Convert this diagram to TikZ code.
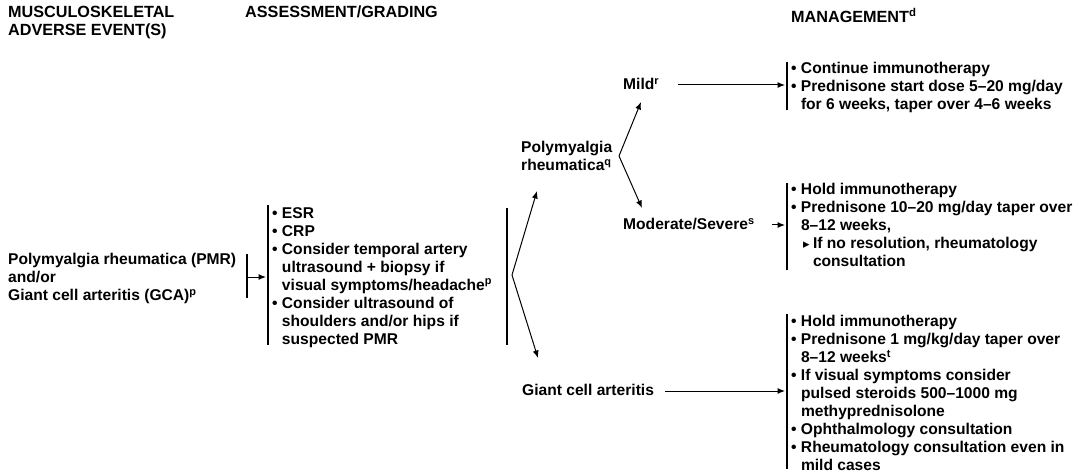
\documentclass[tikz,border=0pt]{standalone}
\usepackage{fontspec}
\setmainfont{Liberation Sans}
\newfontfamily\djv{DejaVu Sans}
\usetikzlibrary{arrows.meta}
\newcommand{\bl}{\phantom{• }}
\newcommand{\subb}{\bl\hspace{2pt}\makebox[10pt][l]{\djv\fontsize{13}{13}\selectfont ▸}}
\begin{document}
\begin{tikzpicture}[x=1pt,y=-1pt,
  txt/.style={inner sep=0pt, anchor=north west, align=left, font=\bfseries\fontsize{15.6}{18}\selectfont},
  head/.style={txt, font=\bfseries\fontsize{16.2}{18}\selectfont},
  bar/.style={line width=1.4pt},
  arr/.style={-{Latex[length=7.5pt,width=6pt]}, line width=1pt}]
\useasboundingbox (0,0) rectangle (1080,476);
% headers
\node[head] (h1) at (8,6) {MUSCULOSKELETAL\\ADVERSE EVENT(S)};
\node[head] (h2) at (245,6) {ASSESSMENT/GRADING};
\node[head] (h3) at (791,8) {MANAGEMENT\textsuperscript{d}};
% left
\node[txt] (ae) at (8,253) {Polymyalgia rheumatica (PMR)\\and/or\\Giant cell arteritis (GCA)\textsuperscript{p}};
\draw[bar] (247,254) coordinate (b1t) -- (247,298) coordinate (b1b);
\coordinate (b1m) at (247,277);
\coordinate (b2m) at (266,277);
\draw[arr] (b1m) -- (b2m);
\draw[bar] (268,205) -- (268,345);
\node[txt] (as) at (272,207) {• ESR\\• CRP\\• Consider temporal artery\\\bl ultrasound + biopsy if\\\bl visual symptoms/headache\textsuperscript{p}\\• Consider ultrasound of\\\bl shoulders and/or hips if\\\bl suspected PMR};
\draw[bar] (507,208) -- (507,345);
\coordinate (apex) at (512,275);
\coordinate (upT) at (537,191);
\coordinate (dnT) at (538,358);
\draw[arr] (apex) -- (upT);
\draw[arr] (apex) -- (dnT);
% PMR branch
\node[txt] (pmr) at (521,141) {Polymyalgia\\rheumatica\textsuperscript{q}};
\coordinate (apex2) at (619,156);
\coordinate (mildT) at (641,102);
\coordinate (modT) at (642,208);
\draw[arr] (apex2) -- (mildT);
\draw[arr] (apex2) -- (modT);
\node[txt] (mild) at (623,78) {Mild\textsuperscript{r}};
\coordinate (m1) at (785,85);
\draw[arr] (678,85) coordinate (mildS) -- (m1);
\draw[bar] (787,62) -- (787,110);
\node[txt] (mg1) at (791,62) {• Continue immunotherapy\\• Prednisone start dose 5–20 mg/day\\\bl for 6 weeks, taper over 4–6 weeks};
\node[txt] (mod) at (623,218) {Moderate/Severe\textsuperscript{s}};
\coordinate (m2) at (785,225);
\draw[arr] (772,225) coordinate (modS) -- (m2);
\draw[bar] (787,183) -- (787,270);
\node[txt] (mg2) at (791,183) {• Hold immunotherapy\\• Prednisone 10–20 mg/day taper over\\\bl 8–12 weeks,\\\subb If no resolution, rheumatology\\\bl\hspace{12pt}consultation};
% GCA branch
\node[txt] (gca) at (522,384) {Giant cell arteritis};
\coordinate (m3) at (785,391);
\draw[arr] (665,391) coordinate (gcaS) -- (m3);
\draw[bar] (787,314) -- (787,469);
\node[txt] (mg3) at (791,315) {• Hold immunotherapy\\• Prednisone 1 mg/kg/day taper over\\\bl 8–12 weeks\textsuperscript{t}\\• If visual symptoms consider\\\bl pulsed steroids 500–1000 mg\\\bl methyprednisolone\\• Ophthalmology consultation\\• Rheumatology consultation even in\\\bl mild cases};
\end{tikzpicture}
\end{document}
